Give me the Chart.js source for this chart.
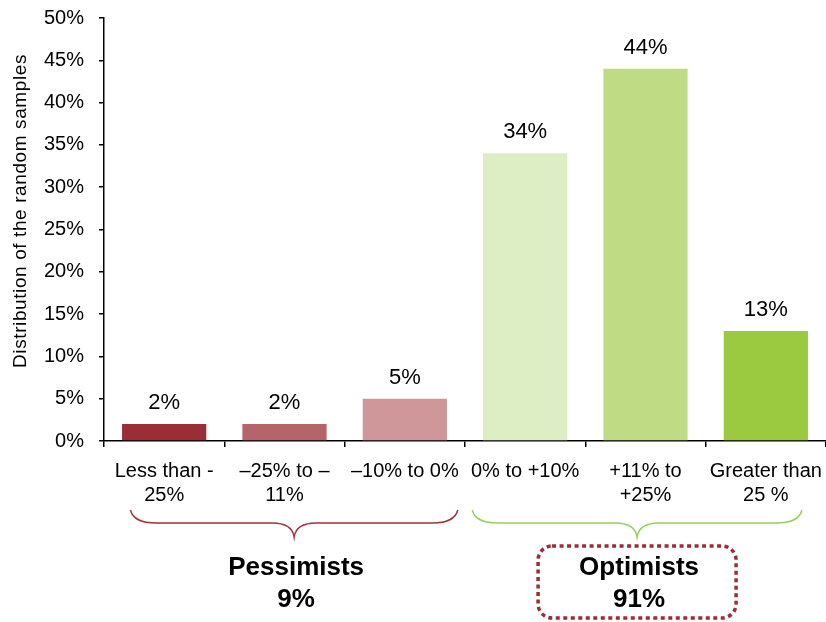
<!DOCTYPE html>
<html>
<head>
<meta charset="utf-8">
<script src="https://cdn.jsdelivr.net/npm/chart.js@4"></script>
<style>
  html, body { margin: 0; padding: 0; background: #fff; }
  #wrap { width: 826px; height: 622px; }
</style>
</head>
<body>
<div id="wrap"><canvas id="barChart" width="826" height="622"></canvas></div>
<script>
// ---- données ----
const categories = [
  ['Less than -', '25%'],
  ['\u201325% to \u2013', '11%'],
  '\u201310% to 0%',
  '0% to +10%',
  ['+11% to', '+25%'],
  ['Greater than', '25 %']
];
const shares = [2, 2, 5, 34, 44, 13];
const barColors = ['#9b2d37', '#b5646a', '#d0979b', '#ddedc4', '#bfdc85', '#9bc93f'];
const yTicks = [0, 5, 10, 15, 20, 25, 30, 35, 40, 45, 50];

// groupes (indices de la première et dernière catégorie)
const groupNames = ['Pessimists', 'Optimists'];
const groupFirst = [0, 3];
const groupLast = [2, 5];
const groupColors = ['#a3323d', '#96cf5a'];

const FONT = '"Liberation Sans", Arial, sans-serif';

// Pourcentages au-dessus des barres, accolades, groupes, titre vertical
const extras = {
  id: 'extras',
  afterDraw(chart) {
    const ctx = chart.ctx;
    const x = chart.scales.x;
    const meta = chart.getDatasetMeta(0);
    ctx.save();

    // valeurs
    ctx.fillStyle = '#000';
    ctx.font = '22px ' + FONT;
    ctx.textAlign = 'center';
    ctx.textBaseline = 'alphabetic';
    meta.data.forEach((bar, i) => {
      ctx.fillText(shares[i] + '%', bar.x, bar.y - 15);
    });

    // titre de l'axe Y
    ctx.save();
    ctx.translate(21, 211);
    ctx.rotate(-Math.PI / 2);
    ctx.textBaseline = 'middle';
    ctx.font = '19px ' + FONT;
    ctx.letterSpacing = '0.6px';
    ctx.fillText('Distribution of the random samples', 0, 0);
    ctx.restore();

    // accolades + libellés de groupe (débord à gauche / à droite, en catégories)
    const insetL = [0.28, 0.44];
    const insetR = [0.44, 0.3];
    const top = 510, mid = 523, tipY = 537;
    groupNames.forEach((name, g) => {
      const x0 = x.getPixelForValue(groupFirst[g] - insetL[g]);
      const x1 = x.getPixelForValue(groupLast[g] + insetR[g]);
      const xm = (x0 + x1) / 2;
      ctx.beginPath();
      ctx.moveTo(x0, top);
      ctx.quadraticCurveTo(x0 + 3, mid, x0 + 26, mid);
      ctx.lineTo(xm - 22, mid);
      ctx.quadraticCurveTo(xm - 2, mid, xm, tipY);
      ctx.quadraticCurveTo(xm + 2, mid, xm + 22, mid);
      ctx.lineTo(x1 - 26, mid);
      ctx.quadraticCurveTo(x1 - 3, mid, x1, top);
      ctx.strokeStyle = groupColors[g];
      ctx.lineWidth = 1.5;
      ctx.stroke();

      let total = 0;
      for (let i = groupFirst[g]; i <= groupLast[g]; i++) total += shares[i];
      ctx.fillStyle = '#000';
      ctx.font = 'bold 26px ' + FONT;
      ctx.textBaseline = 'middle';
      ctx.fillText(name, xm + 2, 568);
      ctx.fillText(total + '%', xm + 2, 600);

      // encadré pointillé autour des optimistes
      if (g === 1) {
        ctx.beginPath();
        ctx.roundRect(xm - 99, 546, 198, 72, 14);
        ctx.setLineDash([4, 3.5]);
        ctx.lineWidth = 3.5;
        ctx.strokeStyle = '#9b2d37';
        ctx.stroke();
        ctx.setLineDash([]);
      }
    });
    ctx.restore();
  }
};

const ctxBar = document.getElementById('barChart').getContext('2d');
new Chart(ctxBar, {
  type: 'bar',
  data: {
    labels: categories,
    datasets: [{
      data: shares,
      backgroundColor: barColors,
      borderWidth: 0,
      categoryPercentage: 1,
      barPercentage: 0.7
    }]
  },
  options: {
    responsive: false,
    animation: false,
    layout: { padding: { top: 18, right: 0, left: 0, bottom: 0 } },
    plugins: {
      legend: { display: false },
      tooltip: { enabled: false }
    },
    scales: {
      x: {
        afterFit: s => { s.height = 181; s.paddingLeft = 0; s.paddingRight = 0; },
        grid: { offset: true, drawOnChartArea: false, tickLength: 6, color: '#000', lineWidth: 1.5 },
        border: { color: '#000', width: 1.5 },
        ticks: {
          color: '#000',
          padding: 12,
          maxRotation: 0,
          autoSkip: false,
          font: { family: FONT, size: 20 }
        }
      },
      y: {
        min: 0,
        max: 50,
        afterFit: s => { s.width = 104; s.paddingTop = 0; s.paddingBottom = 0; },
        afterBuildTicks: s => { s.ticks = yTicks.map(v => ({ value: v })); },
        grid: { drawOnChartArea: false, tickLength: 5, color: '#000', lineWidth: 1.5 },
        border: { color: '#000', width: 1.5 },
        ticks: {
          color: '#000',
          padding: 15,
          callback: v => v + '%',
          font: { family: FONT, size: 20 }
        }
      }
    }
  },
  plugins: [extras]
});
</script>
</body>
</html>
